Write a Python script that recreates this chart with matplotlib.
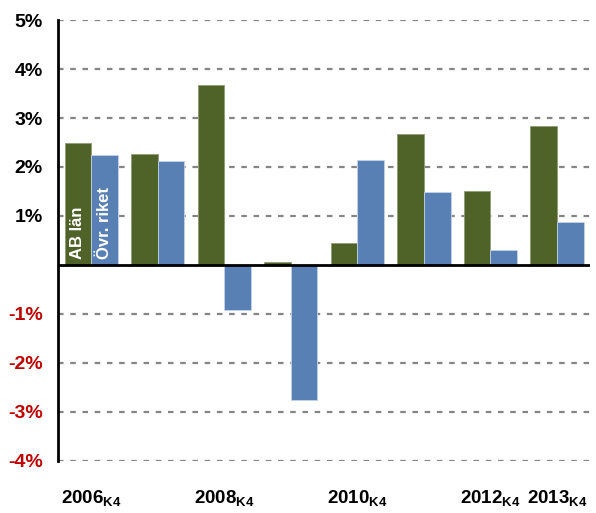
import numpy as np
import matplotlib
matplotlib.use('Agg')
import matplotlib.pyplot as plt

plt.rcParams['font.family'] = ['Liberation Sans', 'DejaVu Sans']
plt.rcParams['mathtext.fontset'] = 'custom'
plt.rcParams['mathtext.rm'] = 'Liberation Sans'
plt.rcParams['mathtext.bf'] = 'Liberation Sans:bold'

# data (annual change, %, Q4)
years = ['2006', '2007', '2008', '2009', '2010', '2011', '2012', '2013']
ab_lan = [2.48, 2.27, 3.67, 0.07, 0.44, 2.67, 1.52, 2.84]
ovr_riket = [2.24, 2.13, -0.92, -2.76, 2.14, 1.49, 0.30, 0.88]
label_years = ['2006', '2008', '2010', '2012', '2013']

green = '#4F6228'
blue = '#5880B4'

fig = plt.figure(figsize=(5.96, 5.13), dpi=100)
ax = fig.add_axes([0.0973, 0.1014, 0.893, 0.8596])

x = np.arange(len(years))
w = 0.4
ax.bar(x - w / 2, ab_lan, w, color=green, edgecolor='#8f9c74', linewidth=0.6, zorder=2)
ax.bar(x + w / 2, ovr_riket, w, color=blue, edgecolor='#c5d3e8', linewidth=0.6, zorder=2)

# dashed grid
for v in range(-4, 6):
    if v == 0:
        continue
    ax.axhline(v, color='#858585', lw=1.6, linestyle=(0, (2.5, 3)), zorder=1)
ax.axhline(0, color='black', lw=2, zorder=3)

ax.set_xlim(-0.5, 7.5)
ax.set_ylim(-4, 5)

for s in ['top', 'right', 'bottom']:
    ax.spines[s].set_visible(False)
ax.spines['left'].set_linewidth(2)

yt = list(range(-4, 6))
ax.set_yticks(yt)
ax.set_yticklabels(['' if v == 0 else f'{v}%' for v in yt], fontsize=14, fontweight='bold')
for lab, v in zip(ax.get_yticklabels(), yt):
    lab.set_color('#C00000' if v < 0 else 'black')
ax.tick_params(axis='y', length=0, pad=11)

xt = [years.index(y) for y in label_years]
ax.set_xticks(xt)
ax.set_xticklabels([r'$\mathbf{' + y + r'}_{\mathbf{K4}}$' for y in label_years], fontsize=13.5)
ax.tick_params(axis='x', length=0, pad=20)

# series names inside the first group
ax.text(-w / 2, 0.13, 'AB län', rotation=90, color='white', fontsize=12,
        fontweight='bold', ha='center', va='bottom', zorder=4)
ax.text(w / 2, 0.13, 'Övr. riket', rotation=90, color='white', fontsize=12,
        fontweight='bold', ha='center', va='bottom', zorder=4)

fig.savefig('out.png', dpi=100)
